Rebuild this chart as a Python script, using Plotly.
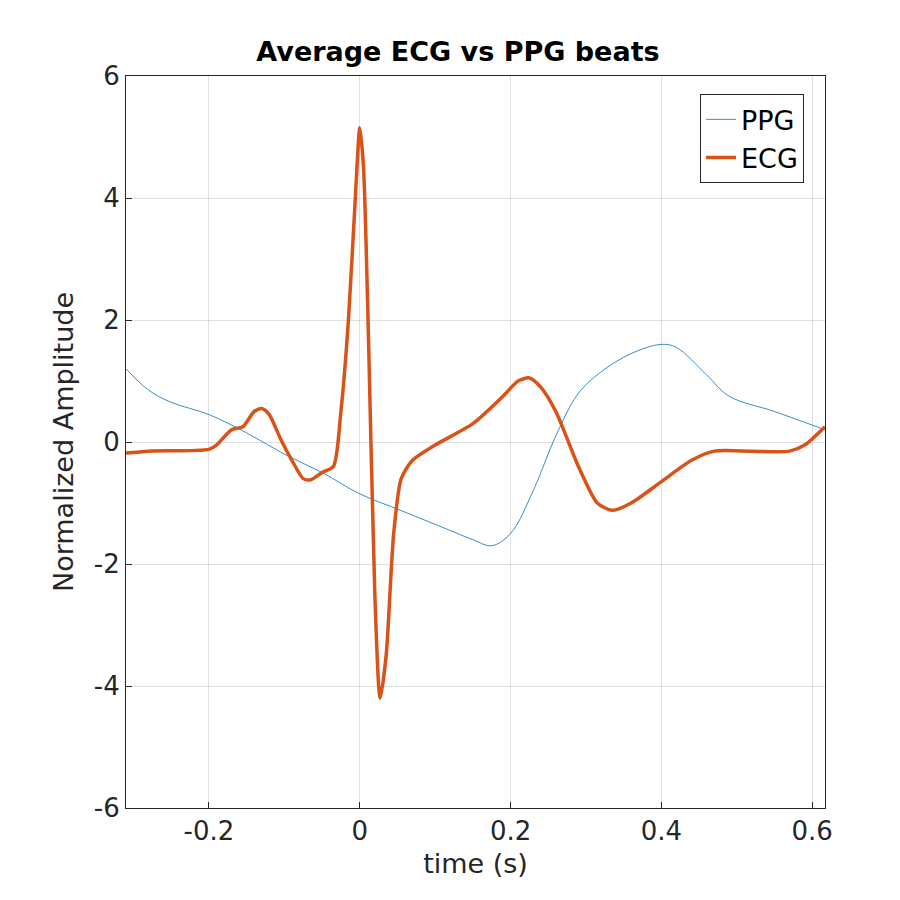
import plotly.graph_objects as go

# ECG average beat
ecg_t = [-0.31, -0.28, -0.2, -0.19, -0.17, -0.155, -0.14, -0.13, -0.12, -0.105, -0.09, -0.075,
         -0.065, -0.05, -0.035, -0.025, -0.015, -0.005, 0.0, 0.005, 0.012, 0.02, 0.027, 0.035,
         0.045, 0.055, 0.07, 0.1, 0.15, 0.19, 0.21, 0.225, 0.24, 0.26, 0.29, 0.315, 0.335,
         0.36, 0.4, 0.44, 0.47, 0.52, 0.57, 0.59, 0.617]
ecg_v = [-0.18, -0.15, -0.12, -0.05, 0.2, 0.25, 0.5, 0.55, 0.45, 0.05, -0.3, -0.6,
         -0.62, -0.5, -0.4, 0.5, 2.0, 4.2, 5.15, 4.5, 1.5, -2.5, -4.2, -3.5,
         -1.5, -0.6, -0.3, -0.05, 0.3, 0.75, 1.0, 1.05, 0.9, 0.5, -0.4, -1.0, -1.12,
         -1.0, -0.65, -0.3, -0.15, -0.15, -0.15, -0.05, 0.25]

# PPG average beat
ppg_t = [-0.31, -0.28, -0.25, -0.2, -0.15, -0.1, -0.05, 0.0, 0.05, 0.1, 0.15, 0.175,
         0.2, 0.23, 0.26, 0.29, 0.32, 0.36, 0.4, 0.42, 0.46, 0.49, 0.55, 0.617]
ppg_v = [1.2, 0.85, 0.65, 0.45, 0.15, -0.2, -0.5, -0.85, -1.1, -1.35, -1.6, -1.7,
         -1.5, -0.8, 0.1, 0.8, 1.15, 1.45, 1.6, 1.55, 1.1, 0.75, 0.5, 0.2]

x_ticks = [-0.2, 0, 0.2, 0.4, 0.6]
x_labels = ["-0.2", "0", "0.2", "0.4", "0.6"]
y_ticks = [-6, -4, -2, 0, 2, 4, 6]
y_labels = ["-6", "-4", "-2", "0", "2", "4", "6"]

FONT = "DejaVu Sans"
TXT = "#262626"

fig = go.Figure()
fig.add_trace(go.Scatter(x=ppg_t, y=ppg_v, mode="lines", name="PPG",
                         line=dict(color="#0072BD", width=0.8, shape="spline")))
fig.add_trace(go.Scatter(x=ecg_t, y=ecg_v, mode="lines", name="ECG",
                         line=dict(color="#D95319", width=3.5, shape="spline", smoothing=0.7)))

axis = dict(showgrid=True, gridcolor="rgba(0,0,0,0.12)", zeroline=False, showline=True,
            linecolor=TXT, linewidth=1, mirror=True, ticks="inside", ticklen=6,
            tickcolor=TXT, tickfont=dict(size=26, color=TXT, family=FONT),
            automargin=False)

fig.update_layout(
    width=900, height=900,
    margin=dict(l=118, r=83, t=68, b=100, autoexpand=False),
    paper_bgcolor="white", plot_bgcolor="white",
    font=dict(family=FONT, color=TXT),
    title=dict(text="<b>Average ECG vs PPG beats</b>", x=0.5, xanchor="center",
               y=0.952, yanchor="middle", font=dict(size=27, color="black", family=FONT)),
    xaxis=dict(axis, range=[-0.31, 0.617], tickvals=x_ticks, ticktext=x_labels,
               title=dict(text="time (s)", font=dict(size=27, color=TXT), standoff=8)),
    yaxis=dict(axis, range=[-6, 6], tickvals=y_ticks, ticktext=y_labels,
               title=dict(text="Normalized Amplitude", font=dict(size=27, color=TXT), standoff=12)),
    legend=dict(x=0.97, y=0.975, xanchor="right", yanchor="top", bgcolor="white",
                bordercolor=TXT, borderwidth=1, font=dict(size=27, color="black", family=FONT)),
    showlegend=True,
)

fig.write_html("out.html")
